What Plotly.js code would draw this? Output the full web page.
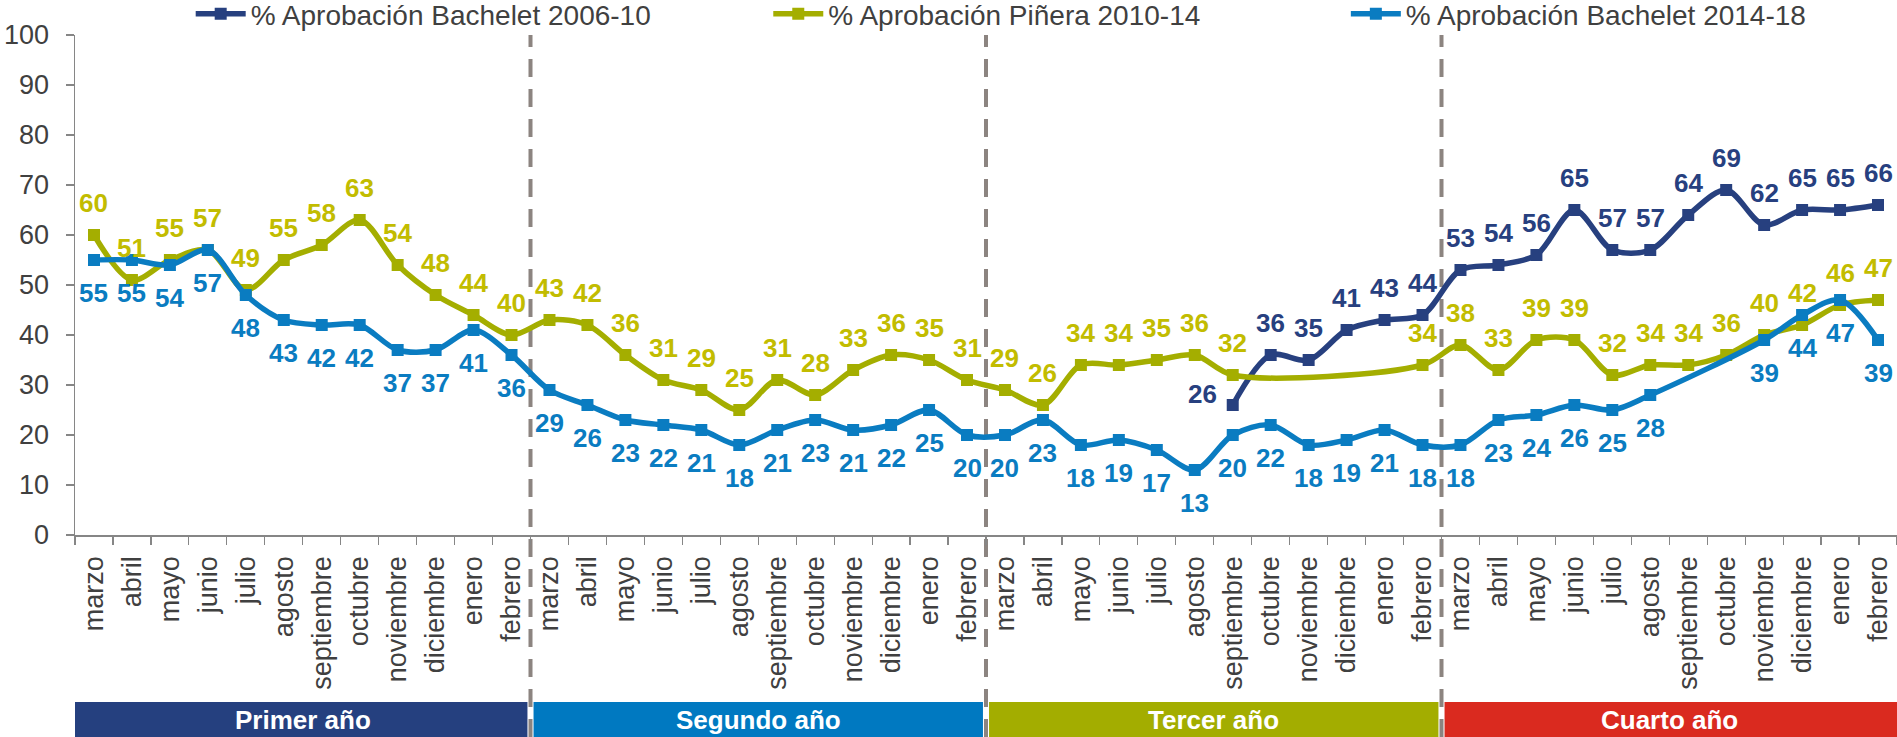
<!DOCTYPE html>
<html>
<head>
<meta charset="utf-8">
<script src="https://cdn.plot.ly/plotly-3.0.1.min.js"></script>
<style>
  html, body { margin: 0; padding: 0; background: #ffffff; }
  #chart { width: 1897px; height: 737px; }
</style>
</head>
<body>
<div id="chart"></div>
<script>
// ---- Data ----
const months = ['marzo','abril','mayo','junio','julio','agosto','septiembre','octubre','noviembre','diciembre','enero','febrero'];
const yearLabels = ['Primer año','Segundo año','Tercer año','Cuarto año'];

const seriesNames = ['% Aprobación Bachelet 2006-10','% Aprobación Piñera 2010-14','% Aprobación Bachelet 2014-18'];

const bachelet2006 = [
  null,null,null,null,null,null,null,null,null,null,null,null,
  null,null,null,null,null,null,null,null,null,null,null,null,
  null,null,null,null,null,null,26,36,35,41,43,44,
  53,54,56,65,57,57,64,69,62,65,65,66
];
const pinera2010 = [
  60,51,55,57,49,55,58,63,54,48,44,40,
  43,42,36,31,29,25,31,28,33,36,35,31,
  29,26,34,34,35,36,32,null,null,null,null,34,
  38,33,39,39,32,34,34,36,40,42,46,47
];
const bachelet2014 = [
  55,55,54,57,48,43,42,42,37,37,41,36,
  29,26,23,22,21,18,21,23,21,22,25,20,
  20,23,18,19,17,13,20,22,18,19,21,18,
  18,23,24,26,25,28,null,null,39,44,47,39
];

// ---- Styles ----
const FONT = 'Liberation Sans, Arial, Helvetica, sans-serif';
const lineColors = ['#27407F', '#A4AE00', '#0A7CC1'];
const labelColors = ['#27407F', '#C2BC00', '#0A7CC1'];
const yearColors = ['#25407F', '#0079C1', '#A3AD00', '#DA2A1F'];
const legendIds = ['legend', 'legend2', 'legend3'];
const legendX = [0.0635, 0.3805, 0.6975];

// unique category keys (year index + month)
const keys = [];
const tickText = [];
yearLabels.forEach((y, yi) => months.forEach(m => { keys.push(m + ' ' + (yi + 1)); tickText.push(m); }));

const seriesValues = [bachelet2006, pinera2010, bachelet2014];

const traces = seriesValues.map((vals, i) => ({
  type: 'scatter',
  mode: 'lines+markers',
  name: seriesNames[i],
  legend: legendIds[i],
  x: keys,
  y: vals,
  connectgaps: true,
  line: { color: lineColors[i], width: 5.5, shape: 'spline', smoothing: 0.9 },
  marker: { symbol: 'square', size: 12, color: lineColors[i] },
  hoverinfo: 'skip'
}));

// data labels
const annotations = [];
const labelShift = [32, 32, -33];
seriesValues.forEach((vals, i) => {
  let first = true;
  vals.forEach((v, j) => {
    if (v === null) return;
    let xs = 0, ys = labelShift[i];
    if (i === 0 && first) { xs = -30; ys = 11; }
    first = false;
    annotations.push({
      x: keys[j], y: v, xref: 'x', yref: 'y',
      text: String(v), showarrow: false,
      xshift: xs, yshift: ys,
      font: { family: FONT, size: 26, color: labelColors[i], weight: 'bold' }
    });
  });
});

// year bars + separators
const shapes = [];
const barTop = (535 - 702) / 500, barBot = (535 - 737) / 500;
for (let k = 1; k < yearLabels.length; k++) {
  const xb = 12 * k - 0.5;
  shapes.push({
    type: 'line', xref: 'x', yref: 'paper', x0: xb, x1: xb, y0: barBot, y1: 1,
    line: { color: '#8C8480', width: 4, dash: '18px,12px' }, layer: 'below'
  });
}
yearLabels.forEach((lab, k) => {
  const x0 = 12 * k - 0.5 + (k === 0 ? -0.03 : 0.08);
  const x1 = 12 * k + 11.5 - (k === yearLabels.length - 1 ? 0 : 0.08);
  shapes.push({
    type: 'rect', xref: 'x', yref: 'paper', x0: x0, x1: x1, y0: barBot, y1: barTop,
    fillcolor: yearColors[k], line: { width: 0 }, layer: 'below'
  });
  annotations.push({
    x: 12 * k + 5.5, xref: 'x', y: (barTop + barBot) / 2, yref: 'paper',
    text: lab, showarrow: false, yanchor: 'middle',
    font: { family: FONT, size: 26, color: '#ffffff', weight: 'bold' }
  });
});

const legendBase = {
  orientation: 'h', xanchor: 'left', y: 1.042, yanchor: 'middle',
  font: { family: FONT, size: 28, color: '#404040' },
  itemwidth: 50,
  bgcolor: 'rgba(0,0,0,0)'
};

const layout = {
  width: 1897, height: 737,
  margin: { l: 75, r: 0, t: 35, b: 202, autoexpand: false },
  paper_bgcolor: '#ffffff',
  plot_bgcolor: 'rgba(0,0,0,0)',
  showlegend: true,
  xaxis: {
    type: 'category', categoryorder: 'array', categoryarray: keys,
    tickmode: 'array', tickvals: keys, ticktext: tickText,
    tickangle: -90, tickson: 'boundaries',
    ticks: 'outside', ticklen: 8, tickcolor: '#868686', tickwidth: 1.2,
    showline: true, linecolor: '#868686', linewidth: 1.5,
    showgrid: false, zeroline: false,
    range: [-0.5, 47.5],
    tickfont: { family: FONT, size: 27, color: '#404040' },
    ticklabelstandoff: 9,
    automargin: false,
    fixedrange: true
  },
  yaxis: {
    range: [0, 100], dtick: 10, tick0: 0,
    ticks: 'outside', ticklen: 8, tickcolor: '#868686', tickwidth: 1.2,
    showline: true, linecolor: '#868686', linewidth: 1.5,
    showgrid: false, zeroline: false,
    tickfont: { family: FONT, size: 27, color: '#404040' },
    ticklabelstandoff: 11,
    automargin: false,
    fixedrange: true
  },
  shapes: shapes,
  annotations: annotations
};
legendIds.forEach((id, i) => { layout[id] = Object.assign({}, legendBase, { x: legendX[i] }); });

Plotly.newPlot('chart', traces, layout, { displayModeBar: false, staticPlot: true });
</script>
</body>
</html>
